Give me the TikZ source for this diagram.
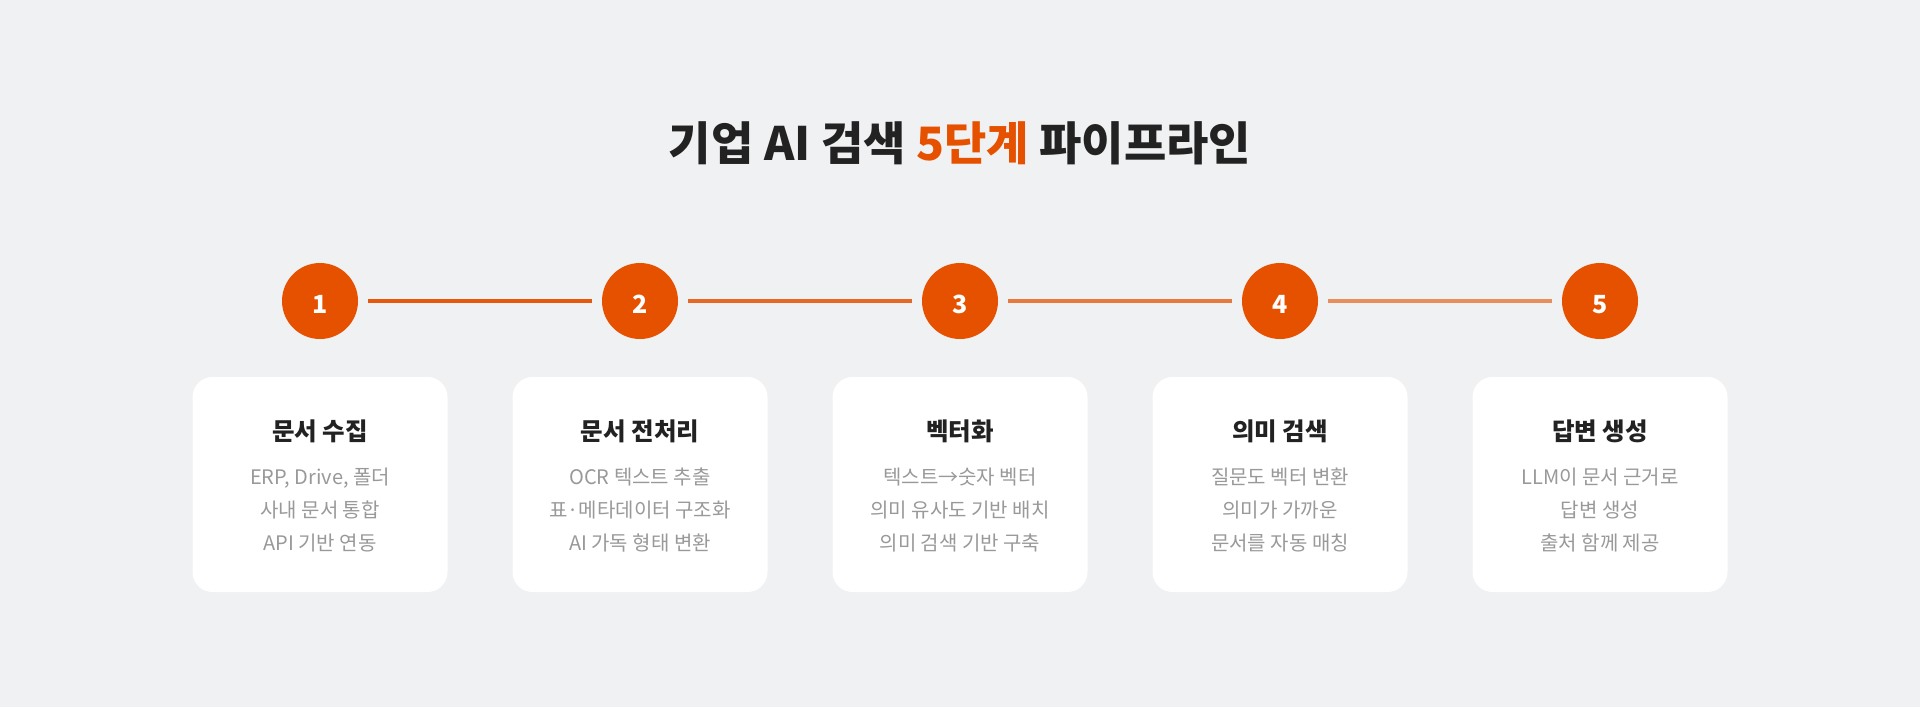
\documentclass[tikz,border=0pt]{standalone}
\usepackage{fontspec}
\setmainfont{Noto Sans CJK KR}
\newfontfamily\krfont{Noto Sans CJK KR}
\newfontfamily\krblack{Noto Sans CJK KR Black}
\definecolor{bgcol}{HTML}{F0F1F3}
\definecolor{accent}{HTML}{E65100}
\definecolor{headcol}{HTML}{222222}
\definecolor{bodycol}{HTML}{999999}
\tikzset{
  stepcircle/.style={circle, fill=accent, minimum size=76pt, inner sep=0pt},
  stepnum/.style={text=white, anchor=base, font=\krfont\bfseries\fontsize{25}{25}\selectfont},
  link/.style={draw=accent, line width=4pt},
  card/.style={rectangle, rounded corners=20pt, fill=white, minimum width=255pt, minimum height=215pt, inner sep=0pt},
  cardhead/.style={anchor=base, text=headcol, font=\krfont\bfseries\fontsize{24.5}{24.5}\selectfont},
  cardbody/.style={anchor=base, text=bodycol, font=\krfont\fontsize{20}{20}\selectfont},
  maintitle/.style={anchor=base, text=headcol, font=\krblack\fontsize{46}{46}\selectfont}
}
\begin{document}
\begin{tikzpicture}[x=1pt,y=-1pt]
\fill[bgcol] (0,0) rectangle (1920,707);
\useasboundingbox (0,0) rectangle (1920,707);

\node[maintitle] (title) at (960,160) {기업 AI 검색 {\color{accent}5단계} 파이프라인};

% circles
\foreach \i/\x in {1/320,2/640,3/960,4/1280,5/1600}{
  \node[stepcircle] (c\i) at (\x,301) {};
  \node[stepnum] (n\i) at (\x,313) {\i};
}
% links
\draw[link, draw opacity=0.95, shorten <=10pt, shorten >=10pt] (c1) -- (c2);
\draw[link, draw opacity=0.85, shorten <=10pt, shorten >=10pt] (c2) -- (c3);
\draw[link, draw opacity=0.75, shorten <=10pt, shorten >=10pt] (c3) -- (c4);
\draw[link, draw opacity=0.62, shorten <=10pt, shorten >=10pt] (c4) -- (c5);

% cards
\foreach \i/\x/\h/\a/\b/\c in {
  1/320/문서 수집/{ERP, Drive, 폴더}/사내 문서 통합/API 기반 연동,
  2/640/문서 전처리/OCR 텍스트 추출/표·메타데이터 구조화/AI 가독 형태 변환,
  3/960/벡터화/텍스트→숫자 벡터/의미 유사도 기반 배치/의미 검색 기반 구축,
  4/1280/의미 검색/질문도 벡터 변환/의미가 가까운/문서를 자동 매칭,
  5/1600/답변 생성/LLM이 문서 근거로/답변 생성/출처 함께 제공}{
  \node[card] (card\i) at (\x,484.5) {};
  \node[cardhead] (h\i) at (\x,440) {\h};
  \node[cardbody] (a\i) at (\x,484) {\a};
  \node[cardbody] (b\i) at (\x,517) {\b};
  \node[cardbody] (d\i) at (\x,550) {\c};
}
\end{tikzpicture}
\end{document}
